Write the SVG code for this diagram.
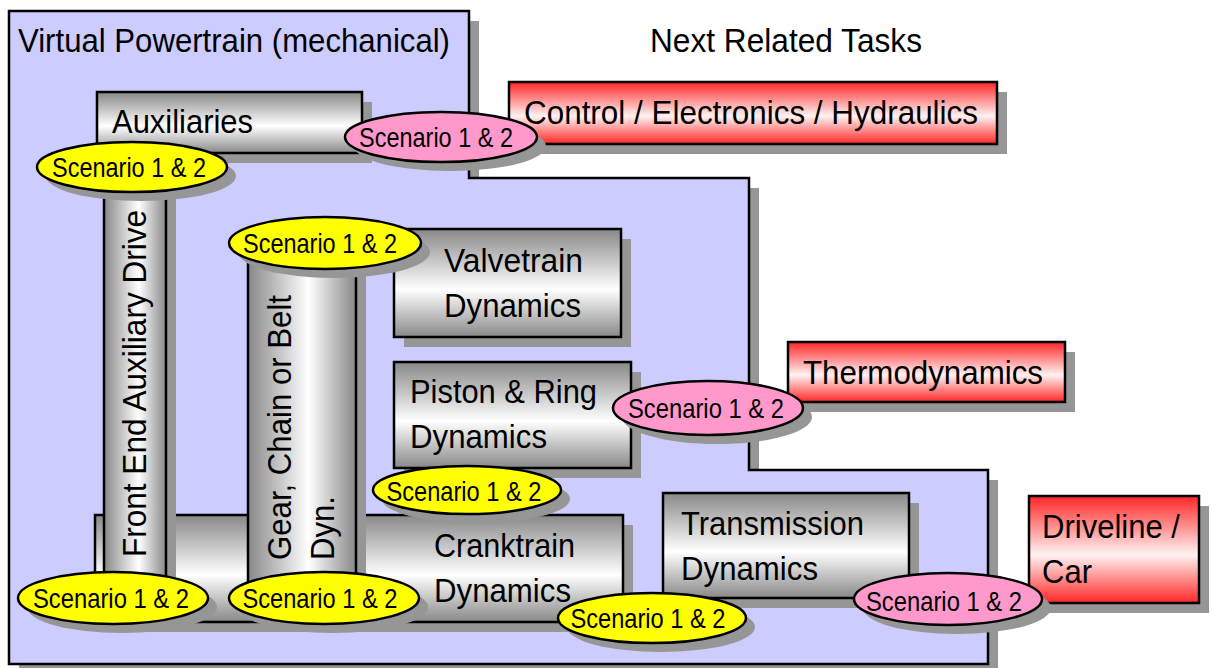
<svg xmlns="http://www.w3.org/2000/svg" width="1212" height="668" viewBox="0 0 1212 668">
<defs>
<linearGradient id="gv" x1="0" y1="0" x2="0" y2="1">
<stop offset="0" stop-color="#888888"/>
<stop offset="0.56" stop-color="#ffffff"/>
<stop offset="1" stop-color="#888888"/>
</linearGradient>
<linearGradient id="gh" x1="0" y1="0" x2="1" y2="0">
<stop offset="0" stop-color="#888888"/>
<stop offset="0.56" stop-color="#ffffff"/>
<stop offset="1" stop-color="#888888"/>
</linearGradient>
<linearGradient id="rv" x1="0" y1="0" x2="0" y2="1">
<stop offset="0" stop-color="#ff2626"/>
<stop offset="0.55" stop-color="#fff2f2"/>
<stop offset="1" stop-color="#ff2626"/>
</linearGradient>
</defs>
<style>
.sh{fill:#969696}
.blue{fill:#ccccff;stroke:#000;stroke-width:2.5}
.box{fill:url(#gv);stroke:#000;stroke-width:2.5}
.cyl{fill:url(#gh);stroke:#000;stroke-width:2.5}
.red{fill:url(#rv);stroke:#000;stroke-width:2.5}
.yel{fill:#ffff00;stroke:#000;stroke-width:2.5}
.pnk{fill:#ff99cc;stroke:#000;stroke-width:2.5}
text{font-family:"Liberation Sans",Arial,sans-serif;fill:#000}
.t{font-size:34px}
.s{font-size:28px;text-anchor:middle}
</style>

<g id="virtual-powertrain">
<polygon class="sh" points="19,21 479,21 479,188 759,188 759,480 998,480 998,674 19,674"/>
<polygon class="blue" points="9,11 469,11 469,178 749,178 749,470 988,470 988,664 9,664"/>
<text class="t" x="18" y="52" textLength="432" lengthAdjust="spacingAndGlyphs">Virtual Powertrain (mechanical)</text>
</g>

<g id="next-related-tasks">
<text class="t" x="650" y="52" textLength="272" lengthAdjust="spacingAndGlyphs">Next Related Tasks</text>
</g>

<g id="auxiliaries">
<rect class="sh" x="107" y="102" width="265" height="61"/>
<rect class="box" x="97" y="92" width="265" height="61"/>
<text class="t" x="112" y="133" textLength="141" lengthAdjust="spacingAndGlyphs">Auxiliaries</text>
</g>

<g id="cranktrain">
<rect class="sh" x="105" y="525" width="528" height="107"/>
<rect class="box" x="95" y="515" width="528" height="107"/>
<text class="t" x="434" y="557" textLength="141" lengthAdjust="spacingAndGlyphs">Cranktrain</text>
<text class="t" x="434" y="602" textLength="137" lengthAdjust="spacingAndGlyphs">Dynamics</text>
</g>

<g id="front-end-auxiliary-drive">
<rect class="sh" x="114" y="175" width="62" height="420"/>
<rect class="cyl" x="104" y="165" width="62" height="420"/>
<text class="t" transform="translate(146,557) rotate(-90)" textLength="347" lengthAdjust="spacingAndGlyphs">Front End Auxiliary Drive</text>
</g>

<g id="gear-chain-belt">
<rect class="sh" x="258" y="250" width="108" height="345"/>
<rect class="cyl" x="248" y="240" width="108" height="345"/>
<text class="t" transform="translate(291,560) rotate(-90)" textLength="265" lengthAdjust="spacingAndGlyphs">Gear, Chain or Belt</text>
<text class="t" transform="translate(334,560) rotate(-90)" textLength="64" lengthAdjust="spacingAndGlyphs">Dyn.</text>
</g>

<g id="valvetrain">
<rect class="sh" x="404" y="239" width="227" height="108"/>
<rect class="box" x="394" y="229" width="227" height="108"/>
<text class="t" x="444" y="272" textLength="139" lengthAdjust="spacingAndGlyphs">Valvetrain</text>
<text class="t" x="444" y="317" textLength="137" lengthAdjust="spacingAndGlyphs">Dynamics</text>
</g>

<g id="piston-ring">
<rect class="sh" x="404" y="372" width="237" height="106"/>
<rect class="box" x="394" y="362" width="237" height="106"/>
<text class="t" x="410" y="403" textLength="187" lengthAdjust="spacingAndGlyphs">Piston &amp; Ring</text>
<text class="t" x="410" y="448" textLength="137" lengthAdjust="spacingAndGlyphs">Dynamics</text>
</g>

<g id="transmission">
<rect class="sh" x="673" y="503" width="246" height="105"/>
<rect class="box" x="663" y="493" width="246" height="105"/>
<text class="t" x="681" y="535" textLength="183" lengthAdjust="spacingAndGlyphs">Transmission</text>
<text class="t" x="681" y="580" textLength="137" lengthAdjust="spacingAndGlyphs">Dynamics</text>
</g>

<g id="control-electronics-hydraulics">
<rect class="sh" x="519" y="92" width="488" height="62"/>
<rect class="red" x="509" y="82" width="488" height="62"/>
<text class="t" x="524" y="124" textLength="454" lengthAdjust="spacingAndGlyphs">Control / Electronics / Hydraulics</text>
</g>

<g id="thermodynamics">
<rect class="sh" x="798" y="352" width="277" height="60"/>
<rect class="red" x="788" y="342" width="277" height="60"/>
<text class="t" x="803" y="384" textLength="240" lengthAdjust="spacingAndGlyphs">Thermodynamics</text>
</g>

<g id="driveline-car">
<rect class="sh" x="1039" y="506" width="170" height="107"/>
<rect class="red" x="1029" y="496" width="170" height="107"/>
<text class="t" x="1042" y="538" textLength="138" lengthAdjust="spacingAndGlyphs">Driveline /</text>
<text class="t" x="1042" y="583" textLength="50" lengthAdjust="spacingAndGlyphs">Car</text>
</g>

<g id="connectors"></g>

<g id="scenario-aux">
<ellipse class="sh" cx="141" cy="176" rx="95" ry="25"/>
<ellipse class="yel" cx="132" cy="167" rx="95" ry="25"/>
<text class="s" x="129" y="177" textLength="154" lengthAdjust="spacingAndGlyphs">Scenario 1 &amp; 2</text>
</g>

<g id="scenario-control">
<ellipse class="sh" cx="450" cy="146" rx="96" ry="25"/>
<ellipse class="pnk" cx="441" cy="137" rx="96" ry="25"/>
<text class="s" x="436" y="147" textLength="154" lengthAdjust="spacingAndGlyphs">Scenario 1 &amp; 2</text>
</g>

<g id="scenario-gear-top">
<ellipse class="sh" cx="334" cy="252" rx="96" ry="26"/>
<ellipse class="yel" cx="325" cy="243" rx="96" ry="26"/>
<text class="s" x="320" y="253" textLength="154" lengthAdjust="spacingAndGlyphs">Scenario 1 &amp; 2</text>
</g>

<g id="scenario-thermo">
<ellipse class="sh" cx="717" cy="417" rx="95" ry="27"/>
<ellipse class="pnk" cx="708" cy="408" rx="95" ry="27"/>
<text class="s" x="706" y="418" textLength="156" lengthAdjust="spacingAndGlyphs">Scenario 1 &amp; 2</text>
</g>

<g id="scenario-crank-top">
<ellipse class="sh" cx="476" cy="499" rx="94" ry="24"/>
<ellipse class="yel" cx="467" cy="490" rx="94" ry="24"/>
<text class="s" x="464" y="501" textLength="155" lengthAdjust="spacingAndGlyphs">Scenario 1 &amp; 2</text>
</g>

<g id="scenario-front-bottom">
<ellipse class="sh" cx="122" cy="607" rx="95" ry="26"/>
<ellipse class="yel" cx="113" cy="598" rx="95" ry="26"/>
<text class="s" x="111" y="608" textLength="156" lengthAdjust="spacingAndGlyphs">Scenario 1 &amp; 2</text>
</g>

<g id="scenario-gear-bottom">
<ellipse class="sh" cx="333" cy="607" rx="95" ry="26"/>
<ellipse class="yel" cx="324" cy="598" rx="95" ry="26"/>
<text class="s" x="320" y="608" textLength="155" lengthAdjust="spacingAndGlyphs">Scenario 1 &amp; 2</text>
</g>

<g id="scenario-transmission">
<ellipse class="sh" cx="661" cy="627" rx="94" ry="25"/>
<ellipse class="yel" cx="652" cy="618" rx="94" ry="25"/>
<text class="s" x="648" y="628" textLength="155" lengthAdjust="spacingAndGlyphs">Scenario 1 &amp; 2</text>
</g>

<g id="scenario-driveline">
<ellipse class="sh" cx="957" cy="608" rx="94" ry="26"/>
<ellipse class="pnk" cx="948" cy="599" rx="94" ry="26"/>
<text class="s" x="944" y="611" textLength="156" lengthAdjust="spacingAndGlyphs">Scenario 1 &amp; 2</text>
</g>
</svg>
